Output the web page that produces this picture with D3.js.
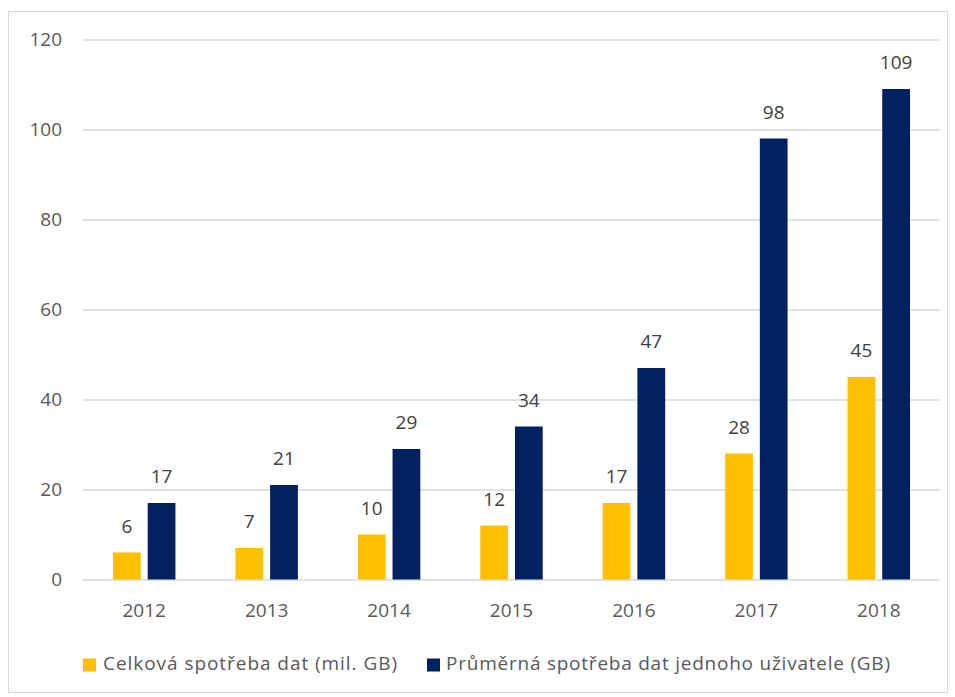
<!DOCTYPE html>
<html><head><meta charset="utf-8">
<script src="https://cdn.jsdelivr.net/npm/d3@7"></script>
<style>body{margin:0;background:#fff}svg{display:block}text{font-family:"Open Sans","Noto Sans",sans-serif}</style>
</head><body>
<svg id="c" width="955" height="697"></svg>
<script>
const years = ["2012","2013","2014","2015","2016","2017","2018"];
const totalData = [6,7,10,12,17,28,45];
const avgData = [17,21,29,34,47,98,109];
const seriesNames = ["Celková spotřeba dat (mil. GB)","Průměrná spotřeba dat jednoho uživatele (GB)"];
const colors = ["#FFC000","#002060"];
const yTicks = [0,20,40,60,80,100,120];

const svg = d3.select("#c");
svg.append("rect").attr("x",8.5).attr("y",11.5).attr("width",939).attr("height",681)
  .attr("fill","#fff").attr("stroke","#d9d9d9");

const x0 = d3.scaleBand().domain(years).range([83,940]).paddingInner(0.49).paddingOuter(0.245);
const x1 = d3.scaleBand().domain([0,1]).range([0,x0.bandwidth()]).paddingInner(0.2);
const y = d3.scaleLinear().domain([0,120]).range([579.5,39.5]);

const gy = svg.append("g").attr("transform","translate(83,0)")
  .call(d3.axisLeft(y).tickValues(yTicks).tickSize(-857).tickPadding(21));
gy.select(".domain").remove();
gy.selectAll(".tick line").attr("stroke","#d9d9d9").attr("stroke-width",1.3);
gy.selectAll(".tick text").attr("fill","#595959").style("font-size","19px").style("font-family","'Open Sans'");

const gx = svg.append("g").attr("transform","translate(0,579.5)")
  .call(d3.axisBottom(x0).tickSize(0).tickPadding(24));
gx.select(".domain").remove();
gx.selectAll(".tick text").attr("fill","#595959").style("font-size","19px").style("font-family","'Open Sans'");

const series = [totalData, avgData];
series.forEach((vals,si)=>{
  const g = svg.append("g");
  g.selectAll("rect").data(vals).join("rect")
    .attr("x",(d,i)=>x0(years[i])+x1(si))
    .attr("width",x1.bandwidth())
    .attr("y",d=>y(d)).attr("height",d=>y(0)-y(d))
    .attr("fill",colors[si]);
  g.selectAll("text").data(vals).join("text")
    .attr("x",(d,i)=>x0(years[i])+x1(si)+x1.bandwidth()/2)
    .attr("y",d=>y(d)-20)
    .attr("text-anchor","middle").attr("fill","#404040")
    .style("font-size","19px").text(d=>d);
});

const leg = [{x:83,tx:103,w:294},{x:427,tx:446,w:444}];
seriesNames.forEach((n,i)=>{
  svg.append("rect").attr("x",leg[i].x).attr("y",658.5).attr("width",13).attr("height",13).attr("fill",colors[i]);
  svg.append("text").attr("x",leg[i].tx).attr("y",669.5).attr("fill","#595959")
    .attr("textLength",leg[i].w).attr("lengthAdjust","spacing")
    .style("font-size","19px").text(n);
});
</script>
</body></html>
